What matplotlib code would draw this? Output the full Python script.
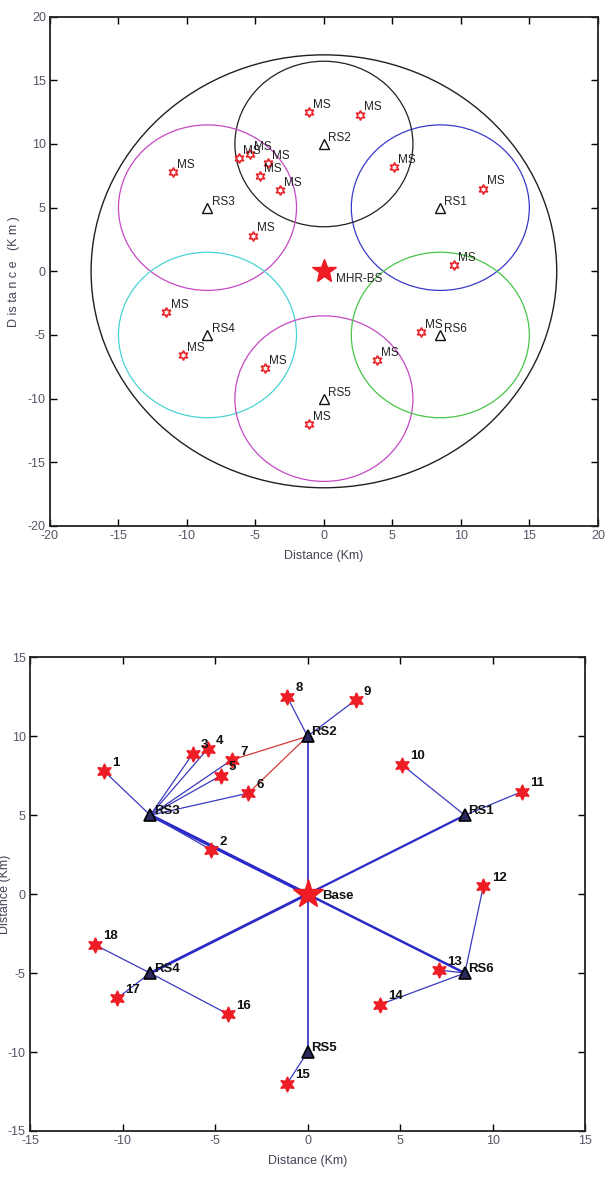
import matplotlib
matplotlib.use("Agg")
import matplotlib.pyplot as plt
from matplotlib.patches import Circle
import numpy as np

plt.rcParams['font.family'] = ['Liberation Sans Narrow', 'Liberation Sans', 'DejaVu Sans']
plt.rcParams['axes.unicode_minus'] = False

# ---- data ----
ms_x = [-11.0, -5.2, -6.2, -5.4, -4.7, -3.2, -4.1, -1.1, 2.6, 5.1, 11.6, 9.5, 7.1, 3.9, -1.1, -4.3, -10.3, -11.5]
ms_y = [7.8, 2.8, 8.9, 9.2, 7.5, 6.4, 8.5, 12.5, 12.3, 8.2, 6.5, 0.5, -4.8, -7.0, -12.0, -7.6, -6.6, -3.2]
ms_ids = [str(i) for i in range(1, 19)]
ms_rs = [3, 3, 3, 3, 3, 3, 3, 2, 2, 1, 1, 6, 6, 6, 5, 4, 4, 4]
extra_links = [(7, 2), (6, 2)]  # (MS id, RS id) red links

rs_names = ['RS1', 'RS2', 'RS3', 'RS4', 'RS5', 'RS6']
rs_x = [8.5, 0.0, -8.5, -8.5, 0.0, 8.5]
rs_y = [5.0, 10.0, 5.0, -5.0, -10.0, -5.0]
rs_radius = 6.5
rs_colors = ['#3a3ac8', '#202020', '#c448c4', '#48d4d4', '#c448c4', '#48c448']
cell_radius = 17.0
bs_x, bs_y = 0.0, 0.0

top_ticks = [-20, -15, -10, -5, 0, 5, 10, 15, 20]
bot_ticks = [-15, -10, -5, 0, 5, 10, 15]

fig = plt.figure(figsize=(6.06, 11.9), dpi=100)

hexagram = (6, 1, 0)

def style_axes(ax, ticks, lim):
    ax.set_xlim(-lim, lim)
    ax.set_ylim(-lim, lim)
    ax.set_xticks(ticks)
    ax.set_yticks(ticks)
    ax.tick_params(direction='in', length=5, width=1.0, top=True, right=True,
                   labelsize=9, labelcolor='#555566', pad=3)
    for s in ax.spines.values():
        s.set_linewidth(1.3)
        s.set_color('#222222')

# ---- top plot ----
ax1 = fig.add_axes([0.0825, 0.558, 0.904, 0.428])
style_axes(ax1, top_ticks, 20)
ax1.add_patch(Circle((bs_x, bs_y), cell_radius, fill=False, ec='#202020', lw=1.0))
for x, y, c in zip(rs_x, rs_y, rs_colors):
    ax1.add_patch(Circle((x, y), rs_radius, fill=False, ec=c, lw=0.9))
ax1.plot(ms_x, ms_y, linestyle='none', marker=hexagram, ms=7, mfc='none', mec='#e8262b', mew=1.2)
for x, y in zip(ms_x, ms_y):
    ax1.text(x + 0.3, y + 0.1, 'MS', fontsize=8.5, color='#222222', va='bottom', ha='left')
ax1.plot(rs_x, rs_y, linestyle='none', marker='^', ms=7, mfc='none', mec='#111111', mew=1.0)
for x, y, n in zip(rs_x, rs_y, rs_names):
    ax1.text(x + 0.3, y + 0.0, n, fontsize=8.5, color='#222222', va='bottom', ha='left')
ax1.plot([bs_x], [bs_y], marker='*', ms=18, color='#ee1c24', linestyle='none')
ax1.text(bs_x + 0.9, bs_y - 0.6, 'MHR-BS', fontsize=8.5, color='#222222', va='center', ha='left')
ax1.set_xlabel('Distance (Km)', fontsize=9, color='#444455', labelpad=6)
ax1.set_ylabel('D is ta n c e   (K m )', fontsize=9, color='#444455')
ax1.yaxis.set_label_coords(-0.055, 0.5)

# ---- bottom plot ----
ax2 = fig.add_axes([0.0495, 0.0496, 0.916, 0.398])
style_axes(ax2, bot_ticks, 15)
# base to relay links
base_lw = [1.6, 1.2, 2.4, 2.0, 1.2, 1.8]
for x, y, lw in zip(rs_x, rs_y, base_lw):
    ax2.plot([bs_x, x], [bs_y, y], color='#2a2ac8', lw=lw, zorder=2)
# MS to relay links
for x, y, r in zip(ms_x, ms_y, ms_rs):
    ax2.plot([x, rs_x[r - 1]], [y, rs_y[r - 1]], color='#3a3ac0', lw=0.9, zorder=2)
for m, r in extra_links:
    ax2.plot([ms_x[m - 1], rs_x[r - 1]], [ms_y[m - 1], rs_y[r - 1]], color='#d23a3a', lw=0.9, zorder=2)
ax2.plot(ms_x, ms_y, linestyle='none', marker=hexagram, ms=11, color='#ee1c24', zorder=3)
for x, y, t in zip(ms_x, ms_y, ms_ids):
    ax2.text(x + 0.45, y + 0.15, t, fontsize=9.5, fontweight='bold', color='#111111',
             va='bottom', ha='left', zorder=4)
ax2.plot(rs_x, rs_y, linestyle='none', marker='^', ms=8, mfc='#2a2a60', mec='#000000', mew=1.2, zorder=3)
for x, y, n in zip(rs_x, rs_y, rs_names):
    ax2.text(x + 0.2, y - 0.1, n, fontsize=9.5, fontweight='bold', color='#111111',
             va='bottom', ha='left', zorder=4)
ax2.plot([bs_x], [bs_y], marker='*', ms=22, color='#ee1c24', linestyle='none', zorder=3)
ax2.text(bs_x + 0.8, bs_y - 0.1, 'Base', fontsize=9.5, fontweight='bold', color='#111111',
         va='center', ha='left', zorder=4)
ax2.set_xlabel('Distance (Km)', fontsize=9, color='#444455', labelpad=6)
ax2.set_ylabel('Distance (Km)', fontsize=9, color='#444455')
ax2.yaxis.set_label_coords(-0.035, 0.5)

fig.savefig('out.png', dpi=100)
